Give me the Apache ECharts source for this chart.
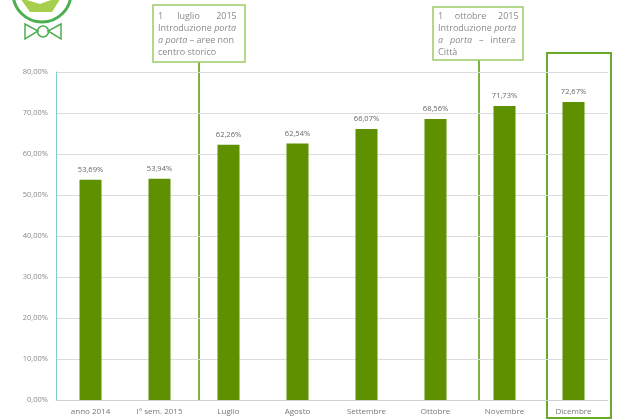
<!DOCTYPE html>
<html>
<head>
<meta charset="utf-8">
<script src="https://cdn.jsdelivr.net/npm/echarts@6/dist/echarts.min.js"></script>
<style>
  html, body { margin: 0; padding: 0; background: #fff; }
  #chart { width: 630px; height: 420px; }
</style>
</head>
<body>
<div id="chart"></div>
<script>
const categories = ['anno 2014', 'I° sem. 2015', 'Luglio', 'Agosto', 'Settembre', 'Ottobre', 'Novembre', 'Dicembre'];
const values = [53.69, 53.94, 62.26, 62.54, 66.07, 68.56, 71.73, 72.67];
const green = '#5f9000';
const boxGreen = '#7cb342';
const textGray = '#8a8a8a';

const fmt = v => v.toFixed(2).replace('.', ',') + '%';

const chart = echarts.init(document.getElementById('chart'));

const noteStyle = {
  fill: textGray, fontSize: 9, fontFamily: 'Open Sans', lineHeight: 12,
  rich: { i: { fontStyle: 'italic', fill: textGray, fontSize: 9, fontFamily: 'Open Sans' } }
};

chart.setOption({
  animation: false,
  grid: { left: 56, right: 22, top: 72, bottom: 20 },
  xAxis: {
    type: 'category',
    data: categories,
    axisLine: { lineStyle: { color: '#d0d0d0' } },
    axisTick: { show: false },
    axisLabel: { color: '#777', fontSize: 8, fontFamily: 'Open Sans', margin: 8 }
  },
  yAxis: {
    type: 'value',
    min: 0,
    max: 80,
    interval: 10,
    axisLine: { show: true, lineStyle: { color: '#7fcccc', width: 1 } },
    axisTick: { show: false },
    splitLine: { lineStyle: { color: '#dcdcdc' } },
    axisLabel: {
      color: '#888', fontSize: 7.5, fontFamily: 'Open Sans', margin: 8,
      formatter: v => fmt(v)
    }
  },
  series: [{
    type: 'bar',
    data: values,
    barWidth: 22,
    itemStyle: { color: green },
    label: {
      show: true, position: 'top', distance: 6,
      color: '#666', fontSize: 7.5, fontFamily: 'Open Sans',
      formatter: p => fmt(p.value)
    }
  }],
  graphic: [
    // logo
    { type: 'circle', shape: { cx: 42, cy: -7, r: 29 }, style: { fill: 'none', stroke: '#4caf50', lineWidth: 3 } },
    { type: 'polygon', shape: { points: [[20, -2], [40, 4], [62, -4], [52, 12], [30, 12]] }, style: { fill: '#a5cf4c' } },
    { type: 'polygon', shape: { points: [[25, 24], [38, 31], [25, 39]] }, style: { fill: 'none', stroke: '#4caf50', lineWidth: 1.5 } },
    { type: 'polygon', shape: { points: [[61, 24], [48, 31], [61, 39]] }, style: { fill: 'none', stroke: '#4caf50', lineWidth: 1.5 } },
    { type: 'circle', shape: { cx: 43, cy: 31.5, r: 5.5 }, style: { fill: 'none', stroke: '#4caf50', lineWidth: 1.5 } },
    // annotation 1
    { type: 'line', shape: { x1: 199, y1: 62, x2: 199, y2: 400 }, style: { stroke: boxGreen, lineWidth: 2 } },
    { type: 'rect', shape: { x: 153, y: 5, width: 92, height: 57 }, style: { fill: '#fff', stroke: '#9ccc65', lineWidth: 1.5 } },
    {
      type: 'text', x: 158, y: 10,
      style: Object.assign({
        text: '1      luglio       2015\nIntroduzione {i|porta}\n{i|a porta} – aree non\ncentro storico'
      }, noteStyle)
    },
    // annotation 2
    { type: 'line', shape: { x1: 479, y1: 60, x2: 479, y2: 400 }, style: { stroke: boxGreen, lineWidth: 2 } },
    { type: 'rect', shape: { x: 433, y: 7, width: 90, height: 53 }, style: { fill: '#fff', stroke: '#9ccc65', lineWidth: 1.5 } },
    {
      type: 'text', x: 438, y: 10,
      style: Object.assign({
        text: '1     ottobre     2015\nIntroduzione {i|porta}\n{i|a   porta}   –   intera\nCittà'
      }, noteStyle)
    },
    // Dicembre highlight
    { type: 'rect', shape: { x: 547, y: 53, width: 64, height: 365 }, style: { fill: 'none', stroke: '#6aaa2a', lineWidth: 2 } }
  ]
});
</script>
</body>
</html>
